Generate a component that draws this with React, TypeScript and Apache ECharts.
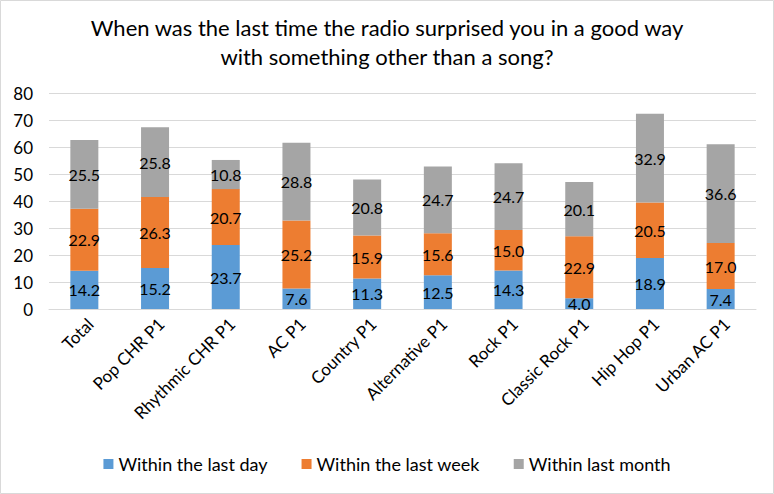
import React, { useEffect, useRef } from "react";
import * as echarts from "echarts";

const categories = [
  "Total",
  "Pop CHR P1",
  "Rhythmic CHR P1",
  "AC P1",
  "Country P1",
  "Alternative P1",
  "Rock P1",
  "Classic Rock P1",
  "Hip Hop P1",
  "Urban AC P1",
];
const lastDay = [14.2, 15.2, 23.7, 7.6, 11.3, 12.5, 14.3, 4.0, 18.9, 7.4];
const lastWeek = [22.9, 26.3, 20.7, 25.2, 15.9, 15.6, 15.0, 22.9, 20.5, 17.0];
const lastMonth = [25.5, 25.8, 10.8, 28.8, 20.8, 24.7, 24.7, 20.1, 32.9, 36.6];
const seriesNames = ["Within the last day", "Within the last week", "Within last month"];
const yTicks = { min: 0, max: 80, interval: 10 };

const FONT = "Lato";

export default function App() {
  const ref = useRef<HTMLDivElement>(null);
  useEffect(() => {
    document.body.style.margin = "0";
    const chart = echarts.init(ref.current!, null, { renderer: "svg" });
    const mk = (name: string, data: number[], color: string) => ({
      name,
      type: "bar",
      stack: "total",
      data,
      barWidth: 28,
      itemStyle: { color },
      label: {
        show: true,
        position: "inside",
        color: "#000",
        fontFamily: FONT,
        fontSize: 16,
        formatter: (p: any) => Number(p.value).toFixed(1),
      },
    });
    chart.setOption({
      animation: false,
      backgroundColor: "#fff",
      title: {
        text: "When was the last time the radio surprised you in a good way\nwith something other than a song?",
        left: "center",
        top: 8,
        textStyle: {
          fontFamily: FONT,
          fontSize: 22,
          fontWeight: "normal",
          color: "#000",
          lineHeight: 29,
        },
      },
      graphic: [
        {
          type: "rect",
          shape: { x: 0.5, y: 0.5, width: 773, height: 493 },
          style: { fill: "none", stroke: "#d9d9d9", lineWidth: 1 },
          silent: true,
        },
      ],
      legend: {
        bottom: 16,
        left: "center",
        itemWidth: 10,
        itemHeight: 10,
        itemGap: 34,
        icon: "rect",
        textStyle: { fontFamily: FONT, fontSize: 18, color: "#000" },
        data: seriesNames,
      },
      grid: { left: 49, right: 18, top: 93, bottom: 185 },
      xAxis: {
        type: "category",
        data: categories,
        axisLine: { lineStyle: { color: "#d9d9d9" } },
        axisTick: { show: false },
        axisLabel: {
          rotate: 45,
          interval: 0,
          fontFamily: FONT,
          fontSize: 17,
          color: "#000",
          margin: 6,
          verticalAlign: "top",
        },
      },
      yAxis: {
        type: "value",
        min: yTicks.min,
        max: yTicks.max,
        interval: yTicks.interval,
        axisLine: { show: false },
        axisTick: { show: false },
        splitLine: { lineStyle: { color: "#d9d9d9" } },
        axisLabel: { fontFamily: FONT, fontSize: 17, color: "#000", margin: 16 },
      },
      series: [
        mk(seriesNames[0], lastDay, "#5B9BD5"),
        mk(seriesNames[1], lastWeek, "#ED7D31"),
        mk(seriesNames[2], lastMonth, "#A5A5A5"),
      ],
    });
    return () => chart.dispose();
  }, []);
  return <div ref={ref} style={{ width: 774, height: 494 }} />;
}
